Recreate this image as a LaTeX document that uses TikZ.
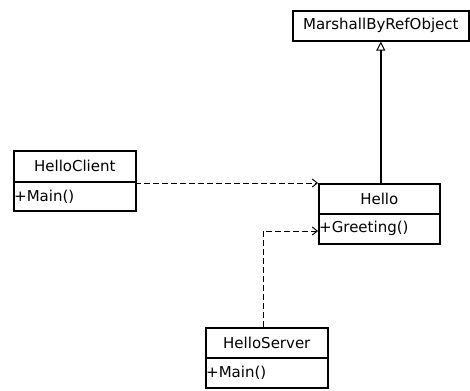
\documentclass[tikz,border=0pt]{standalone}
\usepackage{fontspec}
\setmainfont{DejaVu Sans}
\usetikzlibrary{arrows.meta,positioning}
\begin{document}
\begin{tikzpicture}[x=1pt,y=-1pt,
  box/.style={draw,line width=1.6pt,inner sep=0pt,anchor=north west},
  ttl/.style={font=\fontsize{15}{17}\selectfont},
  mem/.style={font=\fontsize{15}{17}\selectfont,anchor=west,inner sep=1pt},
  dep/.style={dashed,line width=0.9pt,dash pattern=on 6pt off 3pt,-{Straight Barb[length=5pt,width=8pt,line width=1pt]}},
  inh/.style={line width=2.4pt,-{Triangle[open,length=9pt,width=9pt,line width=1pt]}}]
\useasboundingbox (0,0) rectangle (470,390);
% MarshallByRefObject
\node[box,minimum width=176pt,minimum height=30pt] (mbro) at (292,10) {};
\node[ttl] (mbrot) at (mbro.center) {MarshallByRefObject};
% HelloClient
\node[box,minimum width=122pt,minimum height=31pt] (hch) at (13,150) {};
\node[box,minimum width=122pt,minimum height=29pt] (hcb) at (13,181) {};
\node[ttl] (hct) at (hch.center) {HelloClient};
\node[mem] (hcm) at (hcb.west) {+Main()};
% Hello
\node[box,minimum width=121pt,minimum height=30pt] (hh) at (318,183) {};
\node[box,minimum width=121pt,minimum height=30pt] (hb) at (318,213) {};
\node[ttl] (ht) at (hh.center) {Hello};
\node[mem] (hm) at (hb.west) {+Greeting()};
% HelloServer
\node[box,minimum width=122pt,minimum height=30pt] (hsh) at (205,327) {};
\node[box,minimum width=122pt,minimum height=30pt] (hsb) at (205,357) {};
\node[ttl] (hst) at (hsh.center) {HelloServer};
\node[mem] (hsm) at (hsb.west) {+Main()};
% connectors
\coordinate (hcr) at (135,183);
\draw[dep] (hcr) -- (hh.north west);
\coordinate (hstop) at (263,327);
\coordinate (bend) at (263,231);
\coordinate (hin) at (318,231);
\draw[dep] (hstop) -- (bend) -- (hin);
\draw[inh] (hh.north -| mbro.south) -- (mbro.south);
\end{tikzpicture}
\end{document}
